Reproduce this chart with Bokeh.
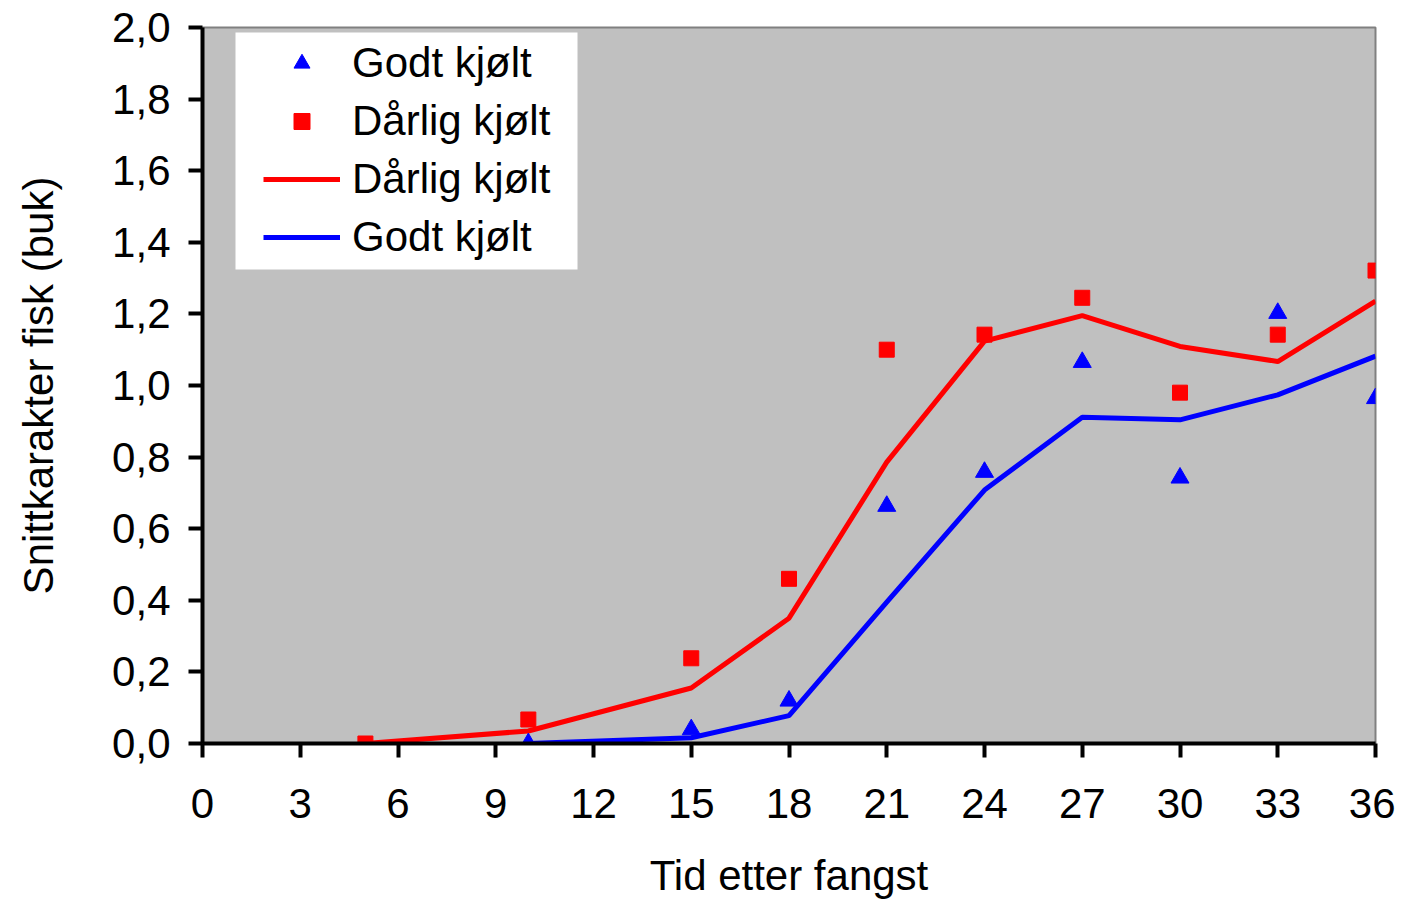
from bokeh.plotting import figure
from bokeh.models import (Range1d, FixedTicker, CustomJSTickFormatter, Legend, LegendItem,
                          BoxAnnotation)
from bokeh.embed import file_html
from bokeh.resources import INLINE

# ---- data ----
x_dar_obs = [5, 10, 15, 18, 21, 24, 27, 30, 33, 36]
dar_obs = [0.0, 0.067, 0.238, 0.46, 1.10, 1.142, 1.245, 0.98, 1.142, 1.321]
x_godt_obs = [10, 15, 18, 21, 24, 27, 30, 33, 36]
godt_obs = [0.0, 0.039, 0.119, 0.663, 0.758, 1.065, 0.742, 1.202, 0.964]

x_dar_fit = [5, 10, 15, 18, 21, 24, 27, 30, 33, 36]
dar_fit = [0.0, 0.035, 0.155, 0.35, 0.786, 1.124, 1.195, 1.109, 1.067, 1.236]
x_godt_fit = [10, 15, 18, 21, 24, 27, 30, 33, 36]
godt_fit = [0.0, 0.016, 0.078, 0.395, 0.708, 0.911, 0.904, 0.974, 1.082]

x_ticks = [0, 3, 6, 9, 12, 15, 18, 21, 24, 27, 30, 33, 36]
y_ticks = [0.0, 0.2, 0.4, 0.6, 0.8, 1.0, 1.2, 1.4, 1.6, 1.8, 2.0]

x_title = "Tid etter fangst"
y_title = "Snittkarakter fisk (buk)"
lbl_godt = "Godt kjølt"
lbl_dar = "Dårlig kjølt"

FONT = "Liberation Sans"
FS = "42px"

p = figure(frame_width=1173, frame_height=716, output_backend="svg", toolbar_location=None,
           x_range=Range1d(0, 36), y_range=Range1d(0, 2.0),
           min_border_left=202, min_border_right=20, min_border_top=27, min_border_bottom=0)

p.background_fill_color = "#C0C0C0"
p.border_fill_color = "white"
p.outline_line_color = "#808080"
p.outline_line_width = 2
p.grid.visible = False

for ax in (p.xaxis[0], p.yaxis[0]):
    ax.axis_line_color = "black"
    ax.axis_line_width = 4
    ax.major_tick_line_color = "black"
    ax.major_tick_line_width = 4
    ax.major_tick_out = 14
    ax.major_tick_in = 0
    ax.minor_tick_line_color = None
    ax.major_label_text_font = FONT
    ax.major_label_text_font_size = FS
    ax.major_label_text_color = "black"
    ax.axis_label_text_font = FONT
    ax.axis_label_text_font_size = FS
    ax.axis_label_text_font_style = "normal"
    ax.axis_label_text_color = "black"

p.xaxis.ticker = FixedTicker(ticks=x_ticks)
p.yaxis.ticker = FixedTicker(ticks=y_ticks)
p.yaxis.formatter = CustomJSTickFormatter(code="return tick.toFixed(1).replace('.', ',');")
p.xaxis.axis_label = x_title
p.yaxis.axis_label = y_title
p.xaxis.major_label_standoff = 31
p.yaxis.major_label_standoff = 18
p.xaxis.axis_label_standoff = 31
p.yaxis.axis_label_standoff = 47

r_dline = p.line(x_dar_fit, dar_fit, line_color="#FF0000", line_width=5)
r_gline = p.line(x_godt_fit, godt_fit, line_color="#0000FF", line_width=5)
r_dsq = p.scatter(x_dar_obs, dar_obs, marker="square", size=15,
                  fill_color="#FF0000", line_color="#FF0000")
r_gtri = p.scatter(x_godt_obs, godt_obs, marker="triangle", size=18,
                   fill_color="#0000FF", line_color="#0000FF")

# white legend panel (screen units relative to the plot frame)
legend_bg = BoxAnnotation(left=33, right=375, bottom=474, top=711,
                          left_units="screen", right_units="screen",
                          bottom_units="screen", top_units="screen",
                          fill_color="white", fill_alpha=1.0, line_color=None)
p.add_layout(legend_bg)

legend = Legend(items=[
    LegendItem(label=lbl_godt, renderers=[r_gtri]),
    LegendItem(label=lbl_dar, renderers=[r_dsq]),
    LegendItem(label=lbl_dar, renderers=[r_dline]),
    LegendItem(label=lbl_godt, renderers=[r_gline]),
])
legend.margin = 0
legend.padding = 0
legend.spacing = 10
legend.glyph_width = 77
legend.glyph_height = 40
legend.label_height = 48
legend.label_standoff = 12
legend.label_text_font = FONT
legend.label_text_font_size = FS
legend.label_text_color = "black"
legend.background_fill_color = "white"
legend.background_fill_alpha = 0.0
legend.border_line_color = None
legend.location = (61, 482)
p.add_layout(legend, "center")

open("out.html", "w").write(file_html(p, INLINE))
